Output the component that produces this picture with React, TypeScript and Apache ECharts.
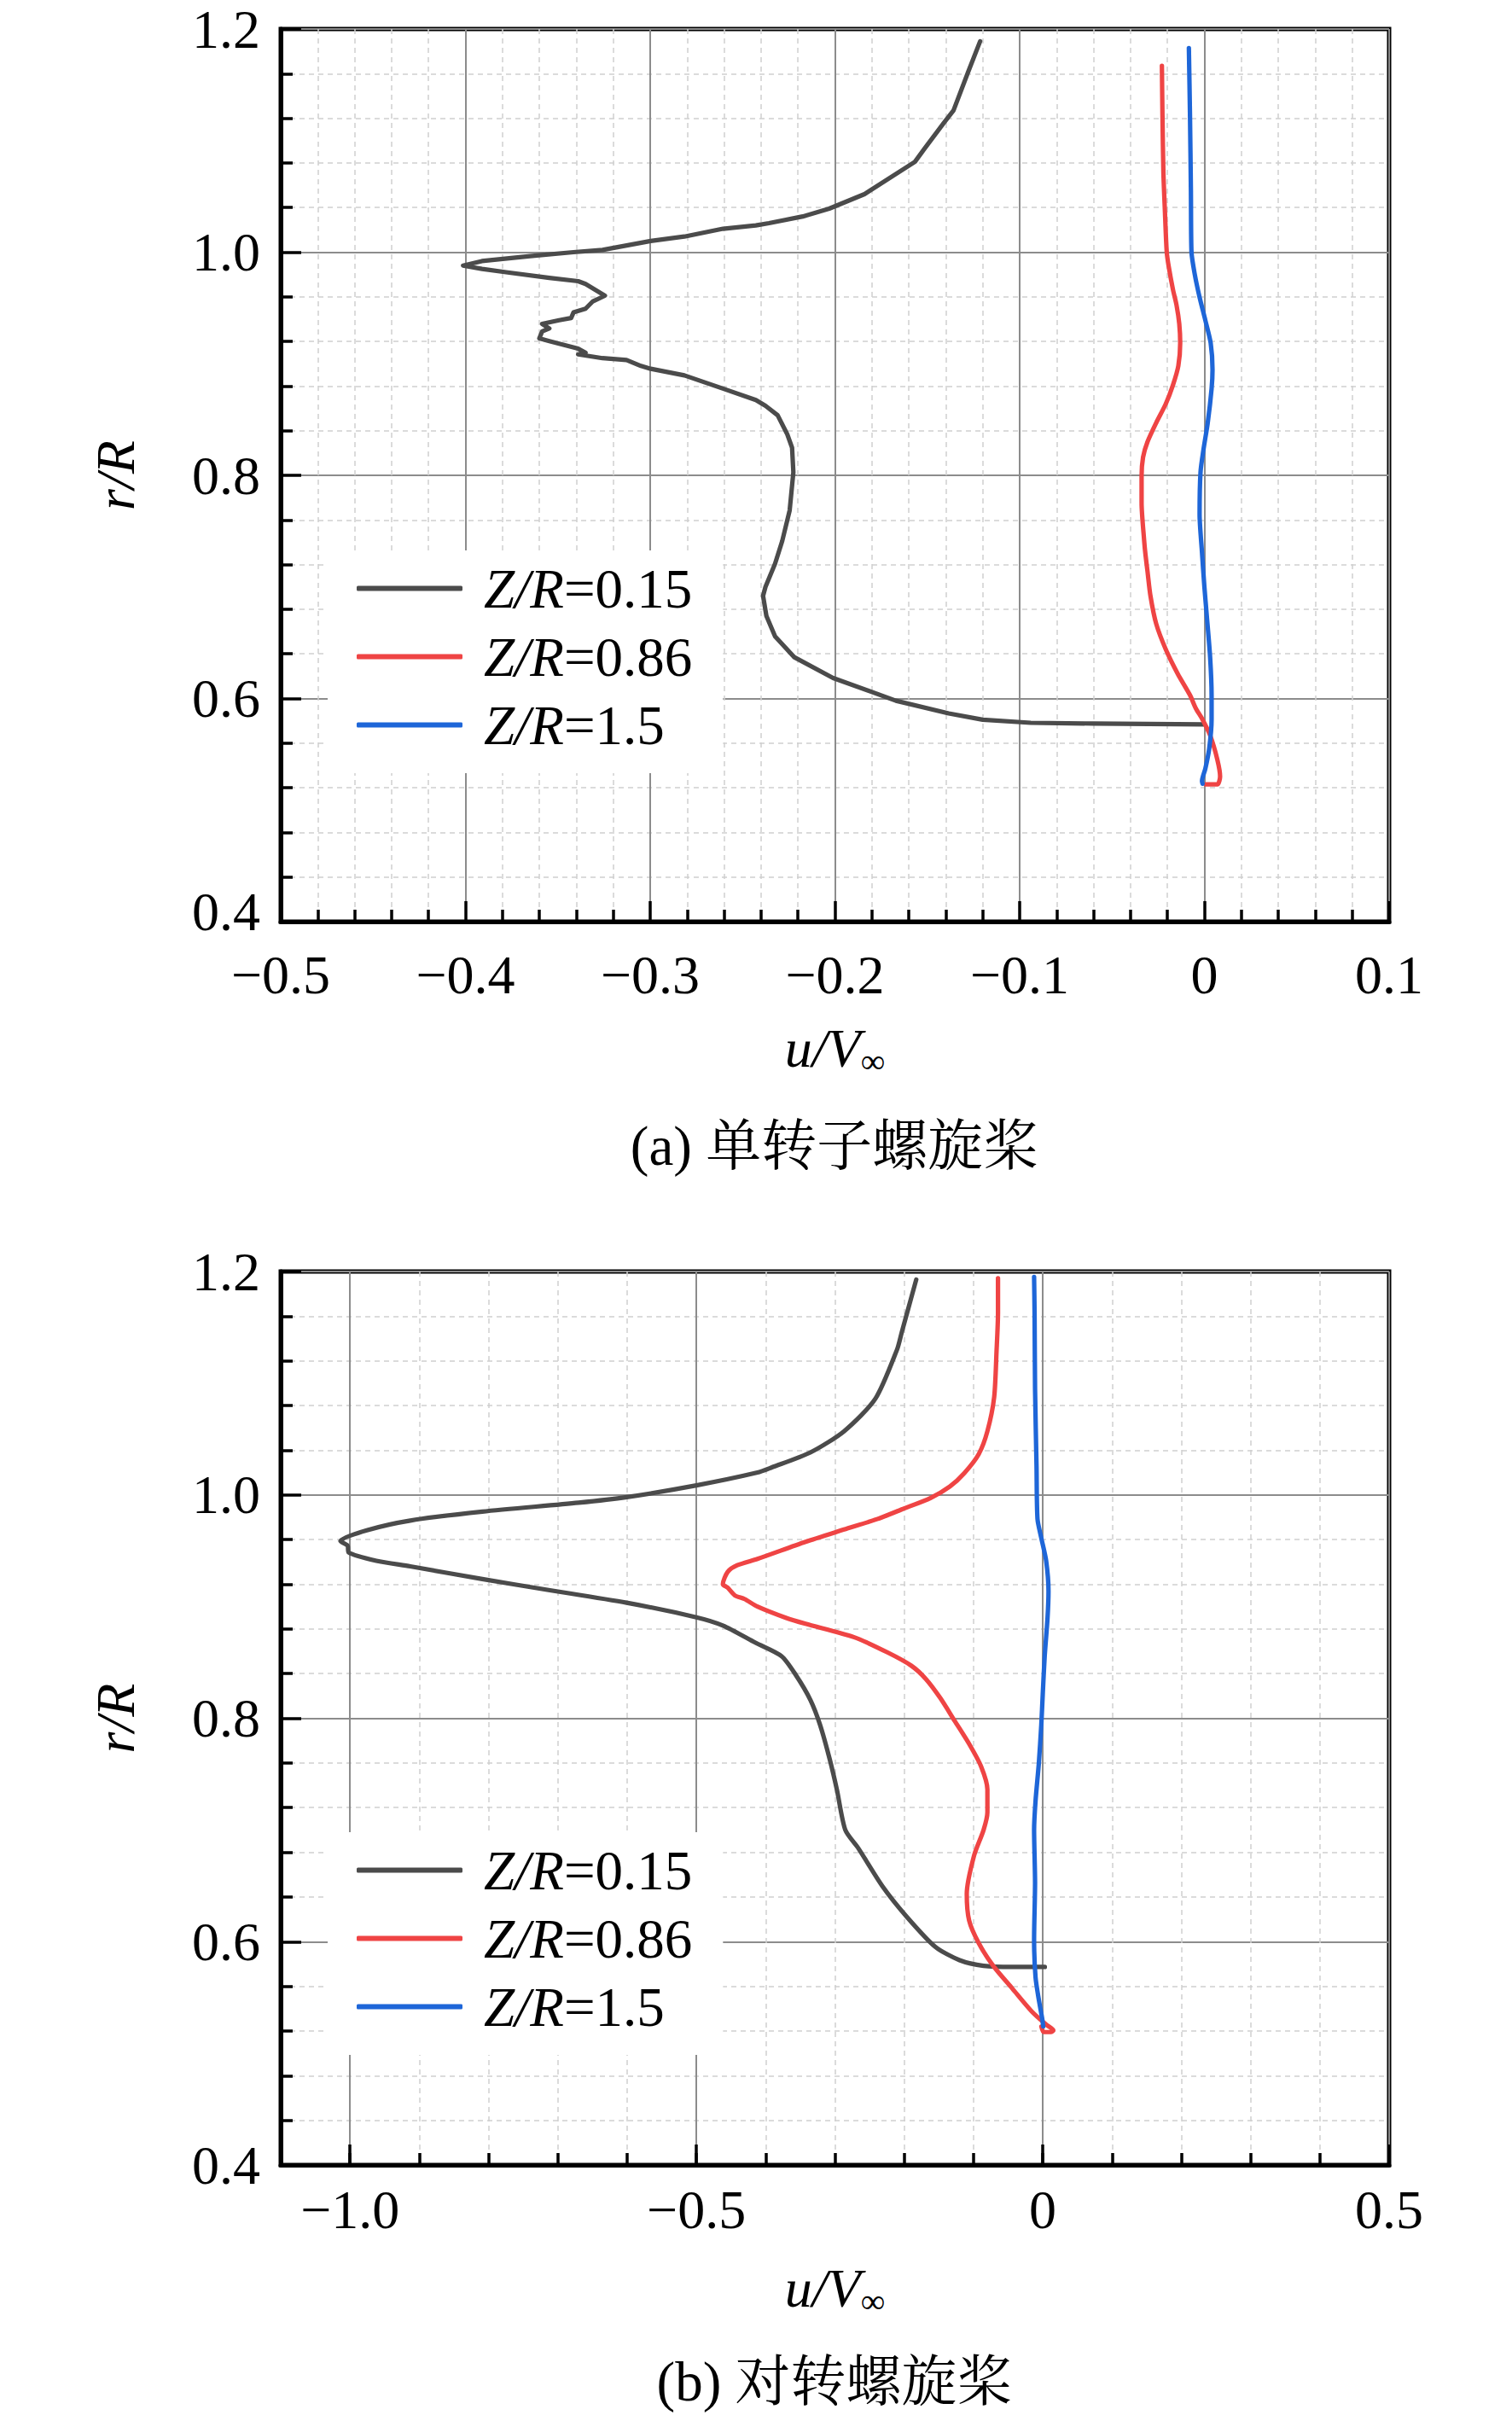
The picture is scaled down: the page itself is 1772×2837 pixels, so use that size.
import React, { useEffect, useRef } from "react";
import * as echarts from "echarts";

const FONT = "'Liberation Serif', 'Times New Roman', serif";
const CJK_FONT = "'Liberation Serif', 'Noto Serif CJK SC', 'Noto Sans CJK SC', serif";

const seriesNames = ["Z/R=0.15", "Z/R=0.86", "Z/R=1.5"];
const seriesColors = ["#4b4b4b", "#ef4444", "#1e66d8"];

const yTicks = [0.4, 0.6, 0.8, 1.0, 1.2];
const topXTicks = [-0.5, -0.4, -0.3, -0.2, -0.1, 0, 0.1];
const bottomXTicks = [-1.0, -0.5, 0, 0.5];

const captions = ["(a) 单转子螺旋桨", "(b) 对转螺旋桨"];

// (a) single rotor: [u/V, r/R]
const top015 = [
  [-0.1214, 1.189], [-0.128, 1.161], [-0.1358, 1.127], [-0.141, 1.116], [-0.1514, 1.093],
  [-0.1567, 1.081], [-0.184, 1.052], [-0.2031, 1.039], [-0.2174, 1.032], [-0.2357, 1.026],
  [-0.2428, 1.024], [-0.2606, 1.021], [-0.2815, 1.014], [-0.2997, 1.01], [-0.3258, 1.002],
  [-0.3415, 1.0], [-0.365, 0.9964], [-0.3911, 0.992], [-0.4013, 0.988], [-0.391, 0.985],
  [-0.378, 0.982], [-0.3546, 0.977], [-0.339, 0.974], [-0.335, 0.9715], [-0.3245, 0.961],
  [-0.331, 0.956], [-0.335, 0.9493], [-0.3415, 0.946], [-0.3428, 0.941], [-0.3493, 0.939],
  [-0.3585, 0.9357], [-0.3546, 0.9316], [-0.3585, 0.929], [-0.36, 0.9227], [-0.3546, 0.9203],
  [-0.339, 0.9135], [-0.335, 0.91], [-0.339, 0.9084], [-0.3258, 0.905], [-0.3128, 0.9033],
  [-0.305, 0.898], [-0.2997, 0.8955], [-0.2815, 0.8896], [-0.2606, 0.8777], [-0.2428, 0.8675],
  [-0.2376, 0.8623], [-0.231, 0.8538], [-0.2258, 0.8368], [-0.2232, 0.8248], [-0.2225, 0.8027],
  [-0.2245, 0.7686], [-0.2285, 0.7413], [-0.2324, 0.7208], [-0.2376, 0.70], [-0.2389, 0.692],
  [-0.2371, 0.674], [-0.2324, 0.6556], [-0.222, 0.637], [-0.201, 0.6184], [-0.167, 0.598],
  [-0.1384, 0.5866], [-0.12, 0.581], [-0.094, 0.5782], [-0.06, 0.5775], [0.0, 0.5768],
];
const top086 = [
  [-0.023, 1.167], [-0.0227, 1.123], [-0.0222, 1.072], [-0.0214, 1.038], [-0.0204, 1.0005],
  [-0.0193, 0.987], [-0.017, 0.9664], [-0.0151, 0.9527], [-0.0136, 0.9357], [-0.0131, 0.9186],
  [-0.0141, 0.8982], [-0.017, 0.881], [-0.0209, 0.864], [-0.0261, 0.847], [-0.0308, 0.83],
  [-0.0332, 0.8163], [-0.034, 0.7993], [-0.034, 0.7754], [-0.0326, 0.7413], [-0.0319, 0.729],
  [-0.0308, 0.714], [-0.0292, 0.692], [-0.0261, 0.667], [-0.0209, 0.644], [-0.0144, 0.622],
  [-0.0078, 0.603], [-0.0046, 0.591], [-0.0013, 0.582], [0.0031, 0.567], [0.007, 0.5453],
  [0.0085, 0.53], [0.007, 0.523], [0.0008, 0.523],
];
const top15 = [
  [-0.0084, 1.183], [-0.0078, 1.123], [-0.0073, 1.055], [-0.007, 1.0005], [-0.0052, 0.98],
  [-0.0026, 0.9595], [0.0005, 0.939], [0.0034, 0.9186], [0.0044, 0.8947], [0.0039, 0.8777],
  [0.0018, 0.847], [-0.0005, 0.823], [-0.0021, 0.8027], [-0.0026, 0.765], [-0.0013, 0.731],
  [0.0, 0.70], [0.0013, 0.674], [0.0031, 0.637], [0.0039, 0.603], [0.0039, 0.581],
  [0.0026, 0.555], [0.0005, 0.537], [-0.0013, 0.526], [-0.001, 0.5236],
];

// (b) contra-rotating: [u/V, r/R]
const bot015 = [
  [-0.1826, 1.1928], [-0.2035, 1.1457], [-0.2104, 1.13], [-0.2417, 1.086], [-0.2868, 1.057],
  [-0.3354, 1.038], [-0.391, 1.0246], [-0.4118, 1.02], [-0.5, 1.0085], [-0.6007, 0.998],
  [-0.67, 0.993], [-0.809, 0.985], [-0.913, 0.977], [-0.9757, 0.9683], [-1.0139, 0.9587],
  [-1.0035, 0.9546], [-1.002, 0.9485], [-0.962, 0.941], [-0.913, 0.936], [-0.809, 0.9246],
  [-0.719, 0.9154], [-0.6007, 0.9034], [-0.5, 0.8904], [-0.4618, 0.883], [-0.4146, 0.8676],
  [-0.3771, 0.8556], [-0.3563, 0.8386], [-0.3354, 0.8164], [-0.3215, 0.7942], [-0.3076, 0.7635],
  [-0.2972, 0.7362], [-0.285, 0.70], [-0.266, 0.6834], [-0.2313, 0.6495], [-0.1965, 0.6224],
  [-0.1549, 0.5952], [-0.1201, 0.5834], [-0.0854, 0.5783], [-0.0438, 0.5773], [0.003, 0.5773],
];
const bot086 = [
  [-0.0646, 1.194], [-0.0646, 1.163], [-0.0667, 1.1287], [-0.0701, 1.0877], [-0.0799, 1.057],
  [-0.0924, 1.0365], [-0.1132, 1.0195], [-0.134, 1.0075], [-0.1618, 0.9973], [-0.2035, 0.987],
  [-0.2382, 0.9785], [-0.2868, 0.969], [-0.3424, 0.958], [-0.4118, 0.9427], [-0.441, 0.937],
  [-0.4549, 0.931], [-0.4618, 0.92], [-0.4549, 0.917], [-0.4444, 0.91], [-0.4306, 0.9068],
  [-0.4118, 0.9], [-0.3701, 0.8898], [-0.3424, 0.8846], [-0.2729, 0.8727], [-0.2243, 0.859],
  [-0.1896, 0.847], [-0.1688, 0.8352], [-0.1479, 0.8181], [-0.1271, 0.7976], [-0.1063, 0.7771],
  [-0.0889, 0.7567], [-0.0799, 0.7362], [-0.0799, 0.7157], [-0.0854, 0.70], [-0.0993, 0.6767],
  [-0.1097, 0.6427], [-0.1063, 0.619], [-0.0924, 0.5986], [-0.0715, 0.5783], [-0.0438, 0.5579],
  [-0.016, 0.5376], [0.0049, 0.5257], [0.0153, 0.5206], [0.0118, 0.519], [0.0014, 0.519],
  [-0.002, 0.524],
];
const bot15 = [
  [-0.0125, 1.1952], [-0.0118, 1.1628], [-0.0111, 1.0945], [-0.009, 1.0263], [-0.0076, 0.9785],
  [-0.0021, 0.9614], [0.0049, 0.941], [0.0083, 0.9137], [0.0069, 0.8898], [0.0028, 0.8556],
  [0.0, 0.8215], [-0.0021, 0.7942], [-0.0056, 0.7601], [-0.0104, 0.726], [-0.0125, 0.70],
  [-0.0111, 0.653], [-0.0125, 0.602], [-0.0104, 0.568], [-0.0056, 0.5477], [-0.0007, 0.5308],
  [0.0007, 0.524],
];

const fmtX = (v: number) =>
  Math.abs(v) < 1e-9 ? "0" : (v < 0 ? "\u2212" : "") + Math.abs(v).toFixed(1);
// the lowest y label is lifted a little so it clears the first x label
const fmtY = (v: number) =>
  Math.abs(v - yTicks[0]) < 1e-9 ? `{lo|${v.toFixed(1)}}` : v.toFixed(1);

const BLACK = "#000";
const tickLine = { color: BLACK, width: 3.5 };
const labelStyle = { fontSize: 64, lineHeight: 44, fontFamily: FONT, color: BLACK };

const xName = "{i|u/V}{s|\u221e}";
const xNameStyle = {
  rich: {
    i: { fontSize: 64, fontFamily: FONT, fontStyle: "italic", color: BLACK, lineHeight: 64 },
    s: { fontSize: 40, fontFamily: FONT, color: BLACK, padding: [30, 0, 0, 0], lineHeight: 40 },
  },
};
const yNameStyle = {
  rich: {
    i: { fontSize: 64, fontFamily: FONT, fontStyle: "italic", color: BLACK, lineHeight: 64 },
  },
};

function yAxisFor(gridIndex: number, lift: number) {
  return {
    gridIndex,
    type: "value",
    min: yTicks[0],
    max: yTicks[yTicks.length - 1],
    interval: yTicks[1] - yTicks[0],
    position: "left",
    axisLine: { show: true, onZero: false, lineStyle: { color: BLACK, width: 5 } },
    axisTick: { show: true, inside: true, length: 24, lineStyle: tickLine },
    minorTick: { show: true, splitNumber: 5, length: 14, lineStyle: tickLine },
    splitLine: { show: true, lineStyle: { color: "#8c8c8c", width: 2 } },
    minorSplitLine: { show: true, lineStyle: { color: "#cfcfcf", width: 1.5, type: [6, 5] } },
    axisLabel: {
      ...labelStyle,
      margin: 24,
      formatter: fmtY,
      showMinLabel: true,
      showMaxLabel: true,
      rich: {
        lo: {
          fontSize: 64,
          lineHeight: 44,
          fontFamily: FONT,
          color: BLACK,
          padding: [0, 0, lift, 0],
        },
      },
    },
    name: "{i|r/R}",
    nameLocation: "middle",
    nameGap: 162,
    nameTextStyle: yNameStyle,
  };
}

function legendFor(top: number) {
  return {
    show: true,
    data: seriesNames,
    orient: "vertical",
    left: 384,
    top,
    padding: [12, 36, 24, 34],
    backgroundColor: "#ffffff",
    itemWidth: 124,
    itemHeight: 6,
    itemGap: 15,
    icon: "roundRect",
    formatter: (name: string) => {
      const rhs = name.split("=")[1];
      return `{i|Z/R}{n|=${rhs}}`;
    },
    textStyle: {
      padding: [0, 0, 0, 20],
      rich: {
        i: { fontSize: 65, fontFamily: FONT, fontStyle: "italic", color: BLACK, lineHeight: 64 },
        n: { fontSize: 65, fontFamily: FONT, color: BLACK, lineHeight: 64 },
      },
    },
  };
}

function lineSeries(
  name: string,
  color: string,
  data: number[][],
  xIdx: number,
  yIdx: number,
  smooth: number
) {
  return {
    type: "line",
    name,
    data,
    xAxisIndex: xIdx,
    yAxisIndex: yIdx,
    showSymbol: false,
    symbol: "none",
    smooth,
    color,
    lineStyle: { color, width: 5.2, cap: "round", join: "round" },
    z: 3,
  };
}

export default function App() {
  const ref = useRef<HTMLDivElement>(null);
  useEffect(() => {
    document.body.style.margin = "0";
    if (!ref.current) return;
    const chart = echarts.init(ref.current, null, { renderer: "svg" });
    const gridBox = { left: 329, width: 1299 };
    const option: any = {
      animation: false,
      backgroundColor: "#ffffff",
      grid: [
        { ...gridBox, top: 34, height: 1046, show: true, borderColor: BLACK, borderWidth: 5, backgroundColor: "transparent" },
        { ...gridBox, top: 1490, height: 1047, show: true, borderColor: BLACK, borderWidth: 5, backgroundColor: "transparent" },
      ],
      xAxis: [
        {
          gridIndex: 0,
          type: "value",
          min: topXTicks[0],
          max: topXTicks[topXTicks.length - 1],
          interval: 0.1,
          position: "bottom",
          axisLine: { show: true, onZero: false, lineStyle: { color: BLACK, width: 5 } },
          axisTick: { show: true, inside: true, length: 24, lineStyle: tickLine },
          minorTick: { show: true, splitNumber: 5, length: 14, lineStyle: tickLine },
          splitLine: { show: true, lineStyle: { color: "#8c8c8c", width: 2 } },
          minorSplitLine: { show: true, lineStyle: { color: "#cfcfcf", width: 1.5, type: [6, 5] } },
          axisLabel: { ...labelStyle, margin: 40, formatter: fmtX, showMinLabel: true, showMaxLabel: true },
          name: xName,
          nameLocation: "middle",
          nameGap: 116,
          nameTextStyle: xNameStyle,
        },
        {
          // bottom chart: minor grid (every 0.1)
          gridIndex: 1,
          type: "value",
          min: -1.1,
          max: 0.5,
          interval: 0.1,
          position: "bottom",
          axisLine: { show: true, onZero: false, lineStyle: { color: BLACK, width: 5 } },
          axisTick: { show: true, inside: true, length: 14, lineStyle: tickLine },
          splitLine: { show: true, lineStyle: { color: "#cfcfcf", width: 1.5, type: [6, 5] } },
          axisLabel: { show: false },
        },
        {
          // bottom chart: major ticks, labels and grid
          gridIndex: 1,
          type: "value",
          min: -1.1,
          max: 0.5,
          position: "bottom",
          axisLine: { show: false, onZero: false },
          axisTick: { show: true, inside: true, length: 24, lineStyle: tickLine, customValues: bottomXTicks },
          splitLine: { show: true, lineStyle: { color: "#8c8c8c", width: 2 } },
          axisLabel: {
            ...labelStyle,
            margin: 30,
            formatter: fmtX,
            customValues: bottomXTicks,
            showMinLabel: true,
            showMaxLabel: true,
          },
          name: xName,
          nameLocation: "middle",
          nameGap: 112,
          nameTextStyle: xNameStyle,
        },
      ],
      yAxis: [yAxisFor(0, 24), yAxisFor(1, 0)],
      legend: [legendFor(645), legendFor(2147)],
      graphic: [
        {
          type: "text",
          x: 978,
          y: 1343,
          style: {
            text: captions[0],
            fontSize: 65,
            fontFamily: CJK_FONT,
            fill: BLACK,
            align: "center",
            verticalAlign: "middle",
            textAlign: "center",
            textVerticalAlign: "middle",
          },
        },
        {
          type: "text",
          x: 978,
          y: 2791,
          style: {
            text: captions[1],
            fontSize: 65,
            fontFamily: CJK_FONT,
            fill: BLACK,
            align: "center",
            verticalAlign: "middle",
            textAlign: "center",
            textVerticalAlign: "middle",
          },
        },
      ],
      series: [
        lineSeries(seriesNames[0], seriesColors[0], top015, 0, 0, 0),
        lineSeries(seriesNames[1], seriesColors[1], top086, 0, 0, 0.25),
        lineSeries(seriesNames[2], seriesColors[2], top15, 0, 0, 0.25),
        lineSeries(seriesNames[0], seriesColors[0], bot015, 1, 1, 0.25),
        lineSeries(seriesNames[1], seriesColors[1], bot086, 1, 1, 0.25),
        lineSeries(seriesNames[2], seriesColors[2], bot15, 1, 1, 0.25),
      ],
    };
    chart.setOption(option);
    return () => chart.dispose();
  }, []);
  return <div ref={ref} style={{ width: 1772, height: 2837 }} />;
}
